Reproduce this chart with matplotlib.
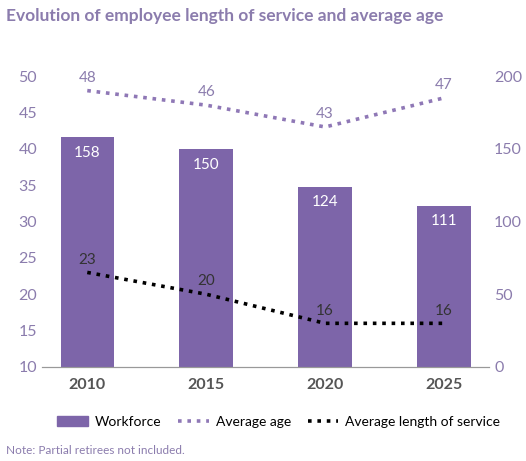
import numpy as np
import matplotlib
matplotlib.use("Agg")
import matplotlib.pyplot as plt
from matplotlib.lines import Line2D
from matplotlib.patches import Patch

plt.rcParams.update({"font.family": ["Lato", "DejaVu Sans"]})

years = ["2010", "2015", "2020", "2025"]
workforce = [158, 150, 124, 111]
avg_age = [48, 46, 43, 47]
avg_service = [23, 20, 16, 16]

purple = "#7d65a9"
label_col = "#8b7cad"

fig = plt.figure(figsize=(5.26, 4.61), dpi=100)
ax = fig.add_axes([0.08, 0.204, 0.85, 0.631])
ax2 = ax.twinx()
x = np.arange(len(years))

ax2.bar(x, workforce, width=0.45, color=purple, zorder=1)
for xi, v in zip(x, workforce):
    ax2.text(xi, v - 6, str(v), ha="center", va="top", color="white", fontsize=11)
ax2.set_ylim(0, 200)
ax2.set_yticks(range(0, 201, 50))

ax.set_zorder(ax2.get_zorder() + 1)
ax.patch.set_visible(False)
ax.plot(x, avg_age, ls=(0, (1, 1.6)), lw=2.6, color="#8f78b6")
ax.plot(x, avg_service, ls=(0, (1, 1.6)), lw=2.6, color="black")
for xi, v in zip(x, avg_age):
    ax.text(xi, v + 0.8, str(v), ha="center", va="bottom", color=label_col, fontsize=11)
for xi, v in zip(x, avg_service):
    ax.text(xi, v + 0.8, str(v), ha="center", va="bottom", color="#333333", fontsize=11)
ax.set_ylim(10, 50)
ax.set_yticks(range(10, 51, 5))
ax.set_xlim(-0.38, 3.38)
ax.set_xticks(x)
ax.set_xticklabels(years, fontweight="bold", color="#555555", fontsize=11)

for a in (ax, ax2):
    for s in ("top", "left", "right"):
        a.spines[s].set_visible(False)
    a.spines["bottom"].set_color("#999999")
    a.tick_params(length=0, labelsize=11.5, labelcolor=label_col)
ax.tick_params(axis="x", labelcolor="#555555", pad=8)

fig.text(0.012, 0.965, "Evolution of employee length of service and average age",
         fontsize=12.5, fontweight="bold", color=label_col, va="center")
handles = [Patch(color=purple),
           Line2D([], [], ls=(0, (1, 1.6)), lw=2.6, color="#8f78b6"),
           Line2D([], [], ls=(0, (1, 1.6)), lw=2.6, color="black")]
fig.legend(handles, ["Workforce", "Average age", "Average length of service"],
           loc="center", bbox_to_anchor=(0.53, 0.085), ncol=3, frameon=False,
           fontsize=10, handlelength=2.2, columnspacing=1.2, handletextpad=0.5)
fig.text(0.012, 0.022, "Note: Partial retirees not included.", fontsize=8.5,
         color=label_col, va="center")
fig.savefig("out.png", dpi=100, facecolor="white")
